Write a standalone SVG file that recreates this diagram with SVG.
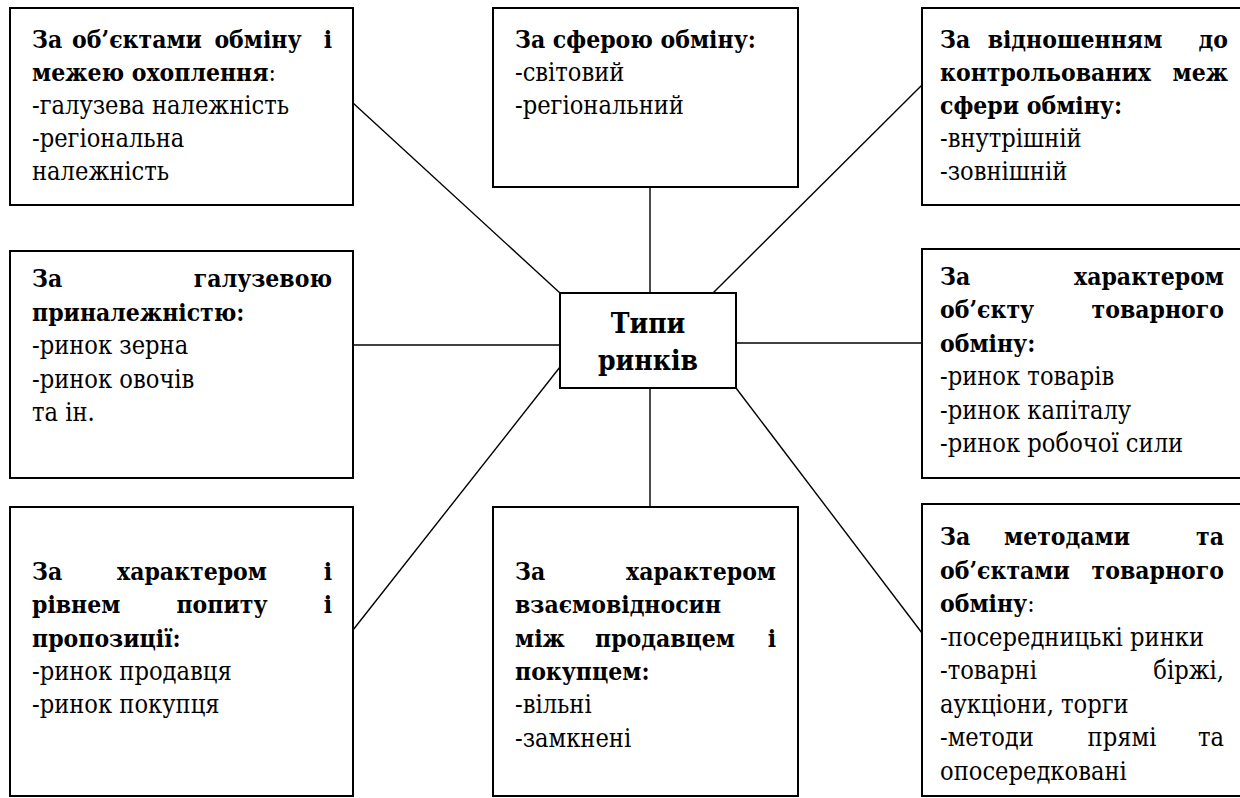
<svg xmlns="http://www.w3.org/2000/svg" width="1240" height="798" viewBox="0 0 1240 798">
<style>
.box{fill:#fff;stroke:#000;stroke-width:2}
.con line{stroke:#000;stroke-width:1.4}
text{font-family:"DejaVu Serif","Liberation Serif",serif;font-stretch:condensed;font-size:25.2px;fill:#000}
.b{font-weight:bold;font-size:24.5px}
.n{font-weight:normal}
.e{text-anchor:end}
.m{text-anchor:middle}
.c{text-anchor:middle;font-size:28px;font-weight:bold}
</style>
<rect width="1240" height="798" fill="#fff"/>
<g id="connectors" class="con">
<line x1="353" y1="103" x2="560" y2="293"/>
<line x1="650" y1="187" x2="650" y2="293"/>
<line x1="922" y1="85" x2="713" y2="293"/>
<line x1="353" y1="345" x2="560" y2="345"/>
<line x1="736" y1="343" x2="922" y2="343"/>
<line x1="560" y1="367" x2="353" y2="630"/>
<line x1="650" y1="388" x2="650" y2="507"/>
<line x1="736" y1="388" x2="922" y2="633"/>
</g>
<g id="center">
<rect class="box" x="560" y="293" width="176" height="95"/>
<text class="c" x="648" y="333">Типи</text>
<text class="c" x="648" y="370">ринків</text>
</g>
<g id="box1">
<rect class="box" x="10" y="8" width="343" height="197"/>
<text class="b" x="32" y="48">За</text>
<text class="b m" x="137" y="48">об’єктами</text>
<text class="b m" x="258" y="48">обміну</text>
<text class="b e" x="332" y="48">і</text>
<text class="b" x="32" y="81">межею охоплення<tspan class="n">:</tspan></text>
<text x="32" y="114">-галузева належність</text>
<text x="32" y="147">-регіональна</text>
<text x="32" y="180">належність</text>
</g>
<g id="box2">
<rect class="box" x="493" y="8" width="305" height="179"/>
<text class="b" x="515" y="48">За сферою обміну:</text>
<text x="515" y="81">-світовий</text>
<text x="515" y="114">-регіональний</text>
</g>
<g id="box3">
<rect class="box" x="922" y="8" width="330" height="197"/>
<text class="b" x="940" y="48">За</text>
<text class="b m" x="1075" y="48">відношенням</text>
<text class="b e" x="1228" y="48">до</text>
<text class="b" x="940" y="81">контрольованих</text>
<text class="b e" x="1228" y="81">меж</text>
<text class="b" x="940" y="114">сфери обміну:</text>
<text x="940" y="147">-внутрішній</text>
<text x="940" y="180">-зовнішній</text>
</g>
<g id="box4">
<rect class="box" x="10" y="251" width="343" height="227"/>
<text class="b" x="32" y="287">За</text>
<text class="b e" x="332" y="287">галузевою</text>
<text class="b" x="32" y="321">приналежністю:</text>
<text x="32" y="354">-ринок зерна</text>
<text x="32" y="388">-ринок овочів</text>
<text x="32" y="421">та ін.</text>
</g>
<g id="box5">
<rect class="box" x="922" y="249" width="330" height="229"/>
<text class="b" x="940" y="285">За</text>
<text class="b e" x="1224" y="285">характером</text>
<text class="b" x="940" y="318">об’єкту</text>
<text class="b e" x="1224" y="318">товарного</text>
<text class="b" x="940" y="352">обміну:</text>
<text x="940" y="385">-ринок товарів</text>
<text x="940" y="419">-ринок капіталу</text>
<text x="940" y="452">-ринок робочої сили</text>
</g>
<g id="box6">
<rect class="box" x="10" y="507" width="343" height="289"/>
<text class="b" x="32" y="580">За</text>
<text class="b m" x="192" y="580">характером</text>
<text class="b e" x="332" y="580">і</text>
<text class="b" x="32" y="613">рівнем</text>
<text class="b m" x="222" y="613">попиту</text>
<text class="b e" x="332" y="613">і</text>
<text class="b" x="32" y="647">пропозиції:</text>
<text x="32" y="680">-ринок продавця</text>
<text x="32" y="713">-ринок покупця</text>
</g>
<g id="box7">
<rect class="box" x="493" y="507" width="305" height="289"/>
<text class="b" x="515" y="580">За</text>
<text class="b e" x="776" y="580">характером</text>
<text class="b" x="515" y="613">взаємовідносин</text>
<text class="b" x="515" y="647">між</text>
<text class="b m" x="665" y="647">продавцем</text>
<text class="b e" x="776" y="647">і</text>
<text class="b" x="515" y="680">покупцем:</text>
<text x="515" y="713">-вільні</text>
<text x="515" y="747">-замкнені</text>
</g>
<g id="box8">
<rect class="box" x="922" y="504" width="330" height="292"/>
<text class="b" x="940" y="545">За</text>
<text class="b m" x="1067" y="545">методами</text>
<text class="b e" x="1224" y="545">та</text>
<text class="b" x="940" y="579">об’єктами</text>
<text class="b e" x="1224" y="579">товарного</text>
<text class="b" x="940" y="612">обміну<tspan class="n">:</tspan></text>
<text x="940" y="646">-посередницькі ринки</text>
<text x="940" y="679">-товарні</text>
<text class="e" x="1224" y="679">біржі,</text>
<text x="940" y="713">аукціони, торги</text>
<text x="940" y="746">-методи</text>
<text class="m" x="1122" y="746">прямі</text>
<text class="e" x="1224" y="746">та</text>
<text x="940" y="780">опосередковані</text>
</g>
</svg>
